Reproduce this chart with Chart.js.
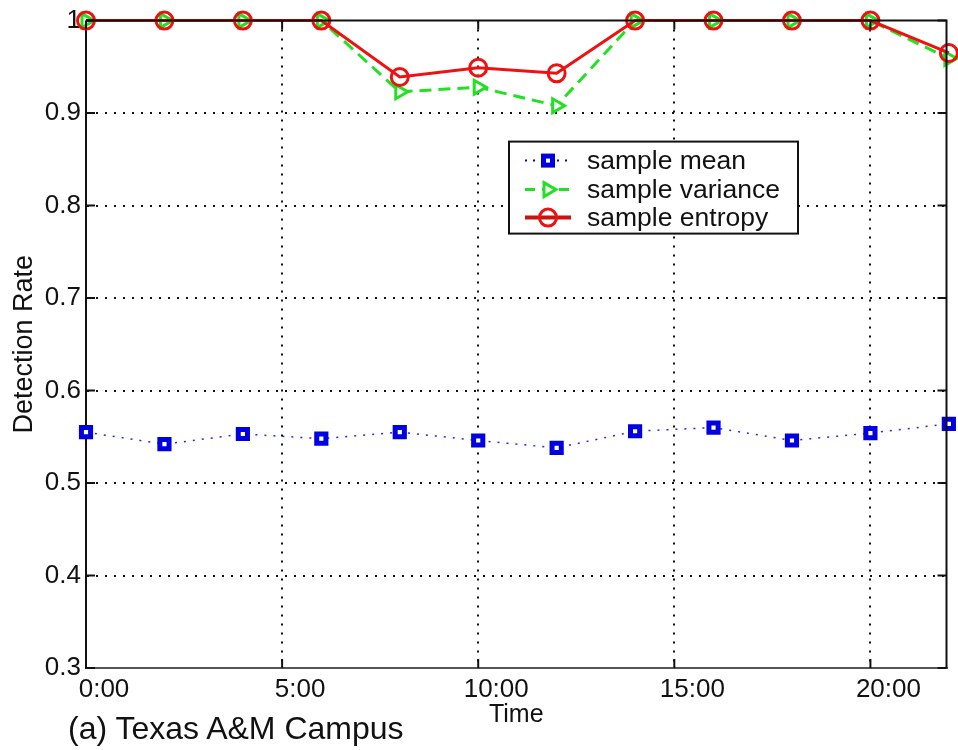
<!DOCTYPE html>
<html>
<head>
<meta charset="utf-8">
<script src="https://cdn.jsdelivr.net/npm/chart.js@4.4.1/dist/chart.umd.min.js"></script>
<style>
  html, body { margin: 0; padding: 0; background: #fff; }
  #wrap { position: relative; width: 958px; height: 750px; }
  #caption {
    position: absolute; left: 68px; top: 712px;
    font: 32px 'Liberation Sans', Arial, sans-serif; line-height: 1;
    color: #111; white-space: nowrap;
  }
</style>
</head>
<body>
<div id="wrap">
  <canvas id="myChart" width="958" height="750"></canvas>
  <div id="caption">(a) Texas A&amp;M Campus</div>
</div>
<script>
// hours of the day, one sample every 2 h
const hours = [0, 2, 4, 6, 8, 10, 12, 14, 16, 18, 20, 22]
const meanValues = [0.555, 0.542, 0.553, 0.548, 0.555, 0.546, 0.538, 0.556, 0.560, 0.546, 0.554, 0.564]
const varianceValues = [1, 1, 1, 1, 0.923, 0.928, 0.908, 1, 1, 1, 1, 0.959]
const entropyValues = [1, 1, 1, 1, 0.939, 0.949, 0.943, 1, 1, 1, 1, 0.965]

const seriesNames = ['sample mean', 'sample variance', 'sample entropy']
const xTickValues = [0, 5, 10, 15, 20]
const xTickLabels = ['0:00', '5:00', '10:00', '15:00', '20:00']
const yTickValues = [0.3, 0.4, 0.5, 0.6, 0.7, 0.8, 0.9, 1]
const yTickLabels = ['0.3', '0.4', '0.5', '0.6', '0.7', '0.8', '0.9', '1']

const blue = '#0000e0'
const green = '#22e022'
const red = '#ee1111'

const toPoints = (vals) => vals.map((v, i) => ({ x: hours[i], y: v }))

Chart.defaults.font.family = "'Liberation Sans', Arial, sans-serif"
Chart.defaults.color = '#111'

// top/right frame, inward ticks and the legend box
const framePlugin = {
	id: 'frame',
	afterDraw(chart) {
		const { ctx, chartArea: a, scales } = chart
		ctx.save()
		ctx.setLineDash([])
		ctx.strokeStyle = '#111'
		ctx.lineWidth = 2
		ctx.beginPath()
		ctx.moveTo(a.left, a.top)
		ctx.lineTo(a.right, a.top)
		ctx.lineTo(a.right, a.bottom)
		ctx.stroke()

		ctx.beginPath()
		scales.y.ticks.forEach((t) => {
			const y = scales.y.getPixelForValue(t.value)
			ctx.moveTo(a.left, y)
			ctx.lineTo(a.left + 9, y)
			ctx.moveTo(a.right, y)
			ctx.lineTo(a.right - 9, y)
		})
		scales.x.ticks.forEach((t) => {
			const x = scales.x.getPixelForValue(t.value)
			ctx.moveTo(x, a.bottom)
			ctx.lineTo(x, a.bottom - 9)
			ctx.moveTo(x, a.top)
			ctx.lineTo(x, a.top + 9)
		})
		ctx.stroke()

		// legend
		const bx = a.left + 423
		const by = a.top + 121
		const bw = 289
		const bh = 92
		ctx.fillStyle = '#fff'
		ctx.fillRect(bx, by, bw, bh)
		ctx.lineWidth = 2
		ctx.strokeStyle = '#111'
		ctx.strokeRect(bx, by, bw, bh)

		const rows = [by + 19, by + 48, by + 76]
		const x0 = bx + 16
		const x1 = bx + 62
		const xm = (x0 + x1) / 2

		ctx.font = "26.5px 'Liberation Sans', Arial, sans-serif"
		ctx.textBaseline = 'middle'
		ctx.fillStyle = '#111'
		seriesNames.forEach((n, i) => ctx.fillText(n, bx + 78, rows[i] + 1))

		// mean
		ctx.strokeStyle = blue
		ctx.lineWidth = 2
		ctx.setLineDash([2, 6])
		ctx.beginPath()
		ctx.moveTo(x0, rows[0])
		ctx.lineTo(x1, rows[0])
		ctx.stroke()
		ctx.setLineDash([])
		ctx.lineWidth = 5
		ctx.fillStyle = '#fff'
		ctx.fillRect(xm - 4.5, rows[0] - 4.5, 9, 9)
		ctx.strokeRect(xm - 4.5, rows[0] - 4.5, 9, 9)

		// variance
		ctx.strokeStyle = green
		ctx.lineWidth = 3
		ctx.setLineDash([10, 7])
		ctx.beginPath()
		ctx.moveTo(x0, rows[1])
		ctx.lineTo(x1, rows[1])
		ctx.stroke()
		ctx.setLineDash([])
		ctx.beginPath()
		ctx.moveTo(xm + 8, rows[1])
		ctx.lineTo(xm - 4, rows[1] - 7)
		ctx.lineTo(xm - 4, rows[1] + 7)
		ctx.closePath()
		ctx.fill()
		ctx.stroke()

		// entropy
		ctx.strokeStyle = '#cc1111'
		ctx.lineWidth = 4
		ctx.beginPath()
		ctx.moveTo(x0, rows[2])
		ctx.lineTo(x1, rows[2])
		ctx.stroke()
		ctx.strokeStyle = red
		ctx.lineWidth = 3
		ctx.beginPath()
		ctx.arc(xm, rows[2], 8.5, 0, Math.PI * 2)
		ctx.stroke()
		ctx.restore()
	},
}

const chartConfig = {
	type: 'line',
	data: {
		datasets: [
			{
				label: seriesNames[0],
				data: toPoints(meanValues),
				borderColor: 'rgba(0, 0, 220, 0.85)',
				borderWidth: 1.5,
				borderDash: [2, 7],
				pointStyle: 'rect',
				pointRadius: 6.5,
				pointBorderWidth: 5,
				pointBorderColor: blue,
				pointBackgroundColor: '#fff',
				order: 2,
				clip: false,
			},
			{
				label: seriesNames[1],
				data: toPoints(varianceValues),
				borderColor: green,
				borderWidth: 3,
				borderDash: [12, 7],
				pointStyle: 'triangle',
				rotation: 90,
				pointRadius: 8,
				pointBorderWidth: 3,
				pointBorderColor: green,
				pointBackgroundColor: '#fff',
				order: 1,
				clip: false,
			},
			{
				label: seriesNames[2],
				data: toPoints(entropyValues),
				borderColor: red,
				borderWidth: 3,
				pointStyle: 'circle',
				pointRadius: 8.5,
				pointBorderWidth: 3,
				pointBorderColor: red,
				pointBackgroundColor: 'rgba(0,0,0,0)',
				order: 0,
				clip: false,
			},
		],
	},
	options: {
		responsive: false,
		animation: false,
		devicePixelRatio: 1,
		layout: { padding: { top: 18, right: 8, left: 0, bottom: 0 } },
		plugins: {
			legend: { display: false },
			tooltip: { enabled: false },
		},
		scales: {
			x: {
				type: 'linear',
				min: 0,
				max: 21.94,
				afterBuildTicks: (s) => { s.ticks = xTickValues.map((v) => ({ value: v })) },
				afterFit: (s) => { s.height = 82 },
				ticks: {
					callback: (v, i) => xTickLabels[i],
					font: { size: 26 },
					padding: 6,
					labelOffset: 18,
					maxRotation: 0,
					color: '#111',
				},
				grid: {
					drawTicks: false,
					lineWidth: 2,
					color: (c) => (c.tick && c.tick.value === 0 ? 'rgba(0,0,0,0)' : '#111'),
				},
				border: { display: true, color: '#555', width: 2, dash: [2, 7] },
				title: {
					display: true,
					text: 'Time',
					font: { size: 25 },
					padding: { top: 0, bottom: 20 },
					color: '#111',
				},
			},
			y: {
				min: 0.3,
				max: 1,
				afterBuildTicks: (s) => { s.ticks = yTickValues.map((v) => ({ value: v })) },
				afterFit: (s) => { s.width = 86 },
				ticks: {
					callback: (v, i) => yTickLabels[i],
					font: { size: 26 },
					padding: 5,
					color: '#111',
				},
				grid: {
					drawTicks: false,
					lineWidth: 2,
					color: (c) => (c.tick && (c.tick.value === 0.3 || c.tick.value === 1) ? 'rgba(0,0,0,0)' : '#111'),
				},
				border: { display: true, color: '#111', width: 2, dash: [2, 7] },
				title: {
					display: true,
					text: 'Detection Rate',
					font: { size: 27 },
					padding: { top: 8, bottom: 0 },
					color: '#111',
				},
			},
		},
	},
	plugins: [framePlugin],
}

const ctx = document.getElementById('myChart').getContext('2d')
new Chart(ctx, chartConfig)
</script>
</body>
</html>
